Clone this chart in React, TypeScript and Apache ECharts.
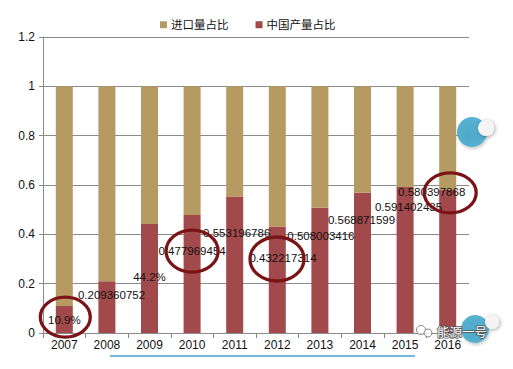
import React, { useEffect, useRef } from "react";
import * as echarts from "echarts";

const years = ["2007", "2008", "2009", "2010", "2011", "2012", "2013", "2014", "2015", "2016"];
const chinaShare = [0.109, 0.209360752, 0.442, 0.477969454, 0.553196786, 0.432217314, 0.508003416, 0.568871599, 0.591402435, 0.580397868];
const importShare = [0.891, 0.790639248, 0.558, 0.522030546, 0.446803214, 0.567782686, 0.491996584, 0.431128401, 0.408597565, 0.419602132];
const labelTexts = ["10.9%", "0.209360752", "44.2%", "0.477969454", "0.553196786", "0.432217314", "0.508003416", "0.568871599", "0.591402435", "0.580397868"];
const yTicks = [0, 0.2, 0.4, 0.6, 0.8, 1, 1.2];

// label placement (pixels relative to the top centre of each red bar)
const LABEL_OFFSETS: number[][] = [[0, 14], [4.6, 13.6], [0, 53], [0, 36], [2, 36.5], [5.7, 31.6], [1, 28], [-1, 27], [3.4, 20], [-16, 2]];
// circled annotations: index, shift from label centre, radii
const CIRCLED = [
  { i: 0, dx: 1, dy: -3, rx: 25, ry: 20 },
  { i: 3, dx: 0, dy: 0, rx: 26, ry: 21 },
  { i: 5, dx: -6, dy: 1, rx: 27, ry: 22 },
  { i: 9, dx: 18.5, dy: 1, rx: 26, ry: 20 },
];

const TAN = "#B59A62";
const RED = "#A2494B";
const GRID = "#8A8A8A";
const FONT = "'Liberation Sans', Arial, 'Noto Sans CJK SC', sans-serif";

export default function App() {
  const ref = useRef<HTMLDivElement>(null);
  useEffect(() => {
    document.body.style.margin = "0";
    const chart = echarts.init(ref.current!, null, { renderer: "svg" });
    const option: any = {
      animation: false,
      backgroundColor: "#ffffff",
      textStyle: { fontFamily: FONT },
      legend: {
        left: 155,
        top: 14,
        itemWidth: 7,
        itemHeight: 7,
        itemGap: 27,
        icon: "rect",
        data: ["进口量占比", "中国产量占比"],
        textStyle: { fontSize: 11.5, color: "#111", fontFamily: FONT, padding: [0, 0, 0, -1] },
      },
      grid: { left: 43, right: 44, top: 37, bottom: 36, containLabel: false },
      xAxis: {
        type: "category",
        data: years,
        axisLine: { lineStyle: { color: GRID, width: 1 } },
        axisTick: { show: true, length: 5, lineStyle: { color: GRID } },
        axisLabel: { color: "#111", fontSize: 12, margin: 6, fontFamily: FONT },
      },
      yAxis: {
        type: "value",
        min: 0,
        max: 1.2,
        interval: 0.2,
        axisLine: { show: true, lineStyle: { color: GRID, width: 1 } },
        axisTick: { show: true, length: 4, lineStyle: { color: GRID } },
        splitLine: { show: true, lineStyle: { color: GRID, width: 1 } },
        axisLabel: {
          color: "#111",
          fontSize: 12,
          margin: 8,
          fontFamily: FONT,
          formatter: (v: number) => {
            const t = yTicks.find((x) => Math.abs(x - v) < 1e-6);
            return String(t !== undefined ? t : v);
          },
        },
      },
      series: [
        {
          name: "中国产量占比",
          type: "bar",
          stack: "total",
          barWidth: 17,
          itemStyle: { color: RED },
          data: chinaShare.map((v, i) => ({
            value: v,
            label: {
              show: true,
              position: "top",
              distance: 0,
              verticalAlign: "middle",
              align: "center",
              offset: LABEL_OFFSETS[i],
              formatter: () => labelTexts[i],
              color: "#111",
              fontSize: 11.5,
              fontFamily: FONT,
            },
          })),
        },
        {
          name: "进口量占比",
          type: "bar",
          stack: "total",
          barWidth: 17,
          itemStyle: { color: TAN },
          data: importShare,
        },
      ],
    };
    chart.setOption(option);

    const ellipses = CIRCLED.map((c) => {
      const p = chart.convertToPixel({ seriesIndex: 0 }, [c.i, chinaShare[c.i]]) as number[];
      const off = LABEL_OFFSETS[c.i];
      return {
        type: "ellipse",
        z: 100,
        shape: { cx: p[0] + off[0] + c.dx, cy: p[1] + off[1] + c.dy, rx: c.rx, ry: c.ry },
        style: { fill: "none", stroke: "#7A1416", lineWidth: 3.3 },
      };
    });

    const blueGrad = new echarts.graphic.RadialGradient(0.4, 0.6, 0.7, [
      { offset: 0, color: "#4FA9C9" },
      { offset: 1, color: "#58B3D3" },
    ]);
    const knob = (cx: number, cy: number, r: number) => ({
      type: "circle",
      z: 102,
      shape: { cx, cy, r },
      style: { fill: "#F4F4F4", shadowBlur: 4, shadowColor: "rgba(0,0,0,0.35)", shadowOffsetX: 1, shadowOffsetY: 1 },
    });
    const bubble = (cx: number, cy: number, r: number) => ({
      type: "circle",
      z: 101,
      shape: { cx, cy, r },
      style: { fill: blueGrad, shadowBlur: 3, shadowColor: "rgba(0,0,0,0.2)", shadowOffsetX: 1, shadowOffsetY: 2 },
    });

    chart.setOption({
      graphic: [
        ...ellipses,
        bubble(472, 132, 15),
        knob(486, 128, 8),
        bubble(475, 329, 14),
        knob(492, 322, 7),
        {
          type: "line",
          z: 50,
          shape: { x1: 110, y1: 356, x2: 415, y2: 356 },
          style: { stroke: "#4A9FD0", lineWidth: 1.5 },
        },
        {
          type: "circle",
          z: 103,
          shape: { cx: 421, cy: 330, r: 4.5 },
          style: { fill: "rgba(255,255,255,0.8)", stroke: "#888", lineWidth: 1 },
        },
        {
          type: "circle",
          z: 103,
          shape: { cx: 428, cy: 333, r: 4 },
          style: { fill: "rgba(255,255,255,0.8)", stroke: "#888", lineWidth: 1 },
        },
        {
          type: "text",
          z: 104,
          x: 437,
          y: 331.5,
          style: {
            text: "能源一号",
            fill: "#ffffff",
            stroke: "#555",
            lineWidth: 1.5,
            fontSize: 12.5,
            fontFamily: "'Noto Sans CJK SC', sans-serif",
            textVerticalAlign: "middle",
            verticalAlign: "middle",
          },
        },
      ],
    });

    return () => chart.dispose();
  }, []);
  return <div ref={ref} style={{ position: "fixed", left: 0, top: 0, width: 513, height: 369 }} />;
}
